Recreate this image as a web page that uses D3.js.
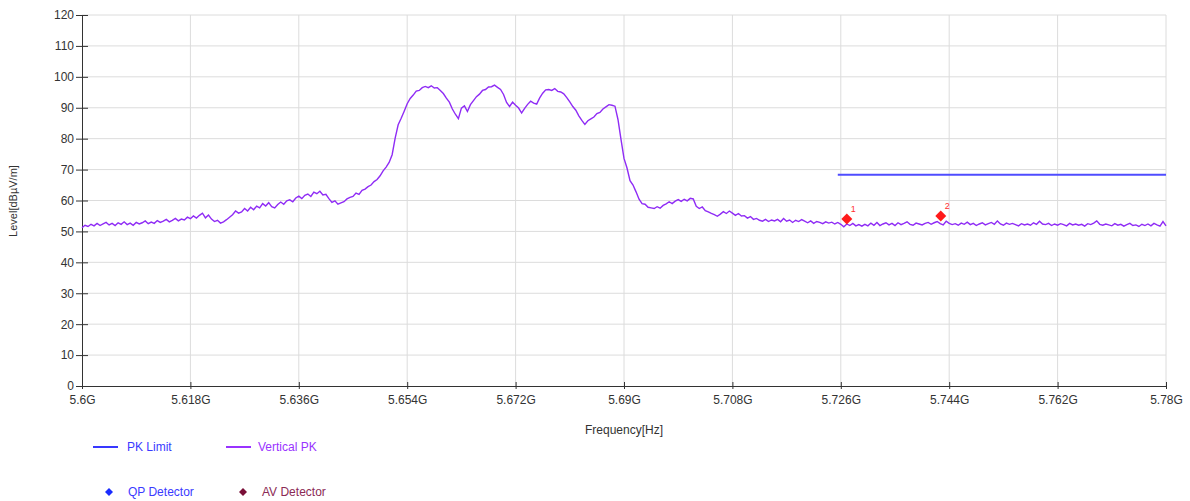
<!DOCTYPE html>
<html><head><meta charset="utf-8">
<script src="https://cdn.jsdelivr.net/npm/d3@7"></script>
<style>body{margin:0;background:#fff}text{font-family:Arial,"Liberation Sans",sans-serif}</style>
</head><body><svg id="c" width="1190" height="501"></svg>
<script>
// ---- data ----
const freqStart = 5.6, freqStep = 0.0005; // GHz, sweep sample spacing
const verticalPK = [
51.2,52.0,51.6,52.3,51.8,52.6,51.9,52.4,52.9,52.1,
52.6,51.9,52.8,52.3,53.1,52.2,52.7,52.0,52.9,52.4,
52.8,53.4,52.5,53.0,52.6,53.5,52.9,53.3,53.9,53.1,
53.6,54.2,53.4,54.0,53.7,54.6,54.1,55.0,54.3,55.2,
55.9,54.4,55.3,54.0,53.2,53.6,52.7,53.1,53.8,54.6,
55.4,56.6,55.9,56.3,57.4,56.6,57.8,57.0,58.2,57.6,
59.0,58.2,59.3,58.0,57.6,58.7,59.5,58.8,59.9,60.2,
59.6,60.8,61.4,60.6,61.7,62.1,61.3,62.7,62.2,63.0,
61.8,62.0,60.6,59.4,59.9,58.8,59.2,59.6,60.5,61.0,
61.3,62.4,62.0,63.3,63.7,64.5,65.0,66.1,66.8,68.0,
69.6,70.8,72.3,74.8,80.2,84.5,86.6,88.9,91.3,93.0,
94.1,95.4,95.6,96.5,96.9,96.5,97.1,96.4,96.5,95.6,
94.6,93.1,91.8,89.6,87.9,86.5,89.9,90.6,88.8,91.0,
92.3,93.6,94.4,95.6,95.9,96.7,96.8,97.3,96.6,95.9,
94.3,91.7,90.4,91.8,90.8,89.9,88.3,89.8,91.1,92.1,
91.5,91.2,93.2,94.7,95.8,95.9,95.6,96.2,95.3,95.1,
94.5,93.3,91.9,90.4,89.2,87.4,85.9,84.6,85.8,86.4,
87.0,88.1,88.5,89.6,90.3,91.0,90.8,90.5,86.2,79.8,
73.6,70.5,66.4,65.0,62.8,60.4,59.0,58.8,57.8,57.6,
57.4,58.0,57.5,58.4,58.9,59.6,59.0,59.8,60.3,59.7,
60.4,59.9,60.7,60.5,58.1,57.4,57.9,56.7,56.3,55.8,
55.4,54.9,55.6,56.4,55.8,56.6,55.9,55.2,55.8,55.0,
55.1,54.3,54.8,53.9,54.2,53.6,53.3,53.9,53.2,53.7,
53.4,53.9,53.1,54.2,53.3,53.7,52.9,53.6,53.2,53.8,
53.3,52.8,53.4,52.6,53.2,52.9,52.5,53.1,52.7,53.0,
52.4,52.9,52.3,51.5,52.4,51.9,52.6,51.8,52.2,51.7,
52.3,51.8,52.7,52.0,52.9,51.9,52.4,52.8,52.1,52.6,
51.9,52.8,52.2,52.6,53.1,52.3,52.0,52.7,52.4,52.1,
52.6,52.9,52.3,52.8,53.2,52.5,52.1,53.3,52.6,52.2,
52.5,52.0,52.7,52.3,53.0,52.2,52.6,51.9,52.4,52.8,
52.1,52.5,52.9,52.3,53.4,52.4,52.0,52.7,52.3,52.6,
52.2,51.8,52.5,52.1,52.4,52.0,52.8,52.3,53.3,52.4,
52.2,52.6,51.9,52.4,52.0,52.5,52.2,51.8,52.6,52.1,
52.4,52.0,52.3,51.7,52.5,52.2,52.7,53.4,52.3,52.0,
52.4,52.1,51.8,52.5,52.0,52.3,51.7,52.2,52.6,51.9,
52.1,51.6,52.3,51.9,52.4,51.8,52.6,52.1,51.7,53.2,51.8
];
const limitFreq = [5.7255, 5.78];
const limitLevel = [68.3, 68.3];
const markerFreq = [5.727, 5.7426];
const markerLevel = [54.0, 55.0];
const markerLabels = ["1", "2"];
const xTicks = [5.6,5.618,5.636,5.654,5.672,5.69,5.708,5.726,5.744,5.762,5.78];
const xTickLabels = ["5.6G","5.618G","5.636G","5.654G","5.672G","5.69G","5.708G","5.726G","5.744G","5.762G","5.78G"];
const yTicks = [0,10,20,30,40,50,60,70,80,90,100,110,120];

// ---- chart ----
const svg = d3.select("#c");
const L = 82, R = 1166, T = 15, B = 386;
const x = d3.scaleLinear().domain([5.6, 5.78]).range([L, R]);
const y = d3.scaleLinear().domain([0, 120]).range([B, T]);

// grid
svg.append("g").selectAll("line").data(yTicks.slice(1)).join("line")
  .attr("x1", L).attr("x2", R).attr("y1", d => y(d)).attr("y2", d => y(d))
  .attr("stroke", "#dcdcdc").attr("stroke-width", 1);
svg.append("g").selectAll("line").data(xTicks.slice(1)).join("line")
  .attr("x1", d => x(d)).attr("x2", d => x(d)).attr("y1", T).attr("y2", B)
  .attr("stroke", "#dcdcdc").attr("stroke-width", 1);

// axes
const yAxis = svg.append("g").attr("transform", `translate(${L},0)`)
  .call(d3.axisLeft(y).tickValues(yTicks).tickSizeInner(6).tickSizeOuter(0).tickPadding(4));
yAxis.selectAll(".tick line").attr("x2", 6).attr("x1", -6).attr("stroke", "#333");
yAxis.select(".domain").attr("stroke", "#333");
yAxis.selectAll("text").attr("font-size", 12).attr("fill", "#333").attr("x", -8);

const xAxis = svg.append("g").attr("transform", `translate(0,${B})`)
  .call(d3.axisBottom(x).tickValues(xTicks).tickFormat((d, i) => xTickLabels[i]).tickSizeInner(3).tickSizeOuter(0).tickPadding(6));
xAxis.selectAll(".tick line").attr("y1", -4).attr("y2", 3).attr("stroke", "#333");
xAxis.select(".domain").attr("stroke", "#333");
xAxis.selectAll("text").attr("font-size", 12).attr("fill", "#333");

// labels
svg.append("text").attr("x", 624).attr("y", 434).attr("text-anchor", "middle")
  .attr("font-size", 12).attr("fill", "#333").text("Frequency[Hz]");
svg.append("text").attr("transform", "translate(17,201) rotate(-90)").attr("text-anchor", "middle")
  .attr("font-size", 11).attr("fill", "#333").text("Level[dBµV/m]");

// trace
const pts = verticalPK.map((v, i) => [freqStart + i * freqStep, v]);
svg.append("path").datum(pts)
  .attr("d", d3.line().x(d => x(d[0])).y(d => y(d[1])))
  .attr("fill", "none").attr("stroke", "#8f2cf5").attr("stroke-width", 1.4);

// limit
svg.append("path").datum(limitFreq.map((f, i) => [f, limitLevel[i]]))
  .attr("d", d3.line().x(d => x(d[0])).y(d => y(d[1])))
  .attr("fill", "none").attr("stroke", "#4f4cff").attr("stroke-width", 2);

// markers
const diamond = d3.symbol().type(d3.symbolDiamond2 || d3.symbolDiamond).size(90);
const mk = svg.append("g");
markerFreq.forEach((f, i) => {
  mk.append("path").attr("d", d3.symbol().type(d3.symbolSquare).size(60)())
    .attr("transform", `translate(${x(f)},${y(markerLevel[i])}) rotate(45)`).attr("fill", "#ff1a1a");
  mk.append("text").attr("x", x(f) + 4).attr("y", y(markerLevel[i]) - 7)
    .attr("font-size", 9).attr("fill", "#ff3030").text(markerLabels[i]);
});

// legend
const leg = svg.append("g");
leg.append("line").attr("x1", 93).attr("x2", 118).attr("y1", 447).attr("y2", 447).attr("stroke", "#3838ff").attr("stroke-width", 2);
leg.append("text").attr("x", 127).attr("y", 451).attr("font-size", 12).attr("fill", "#3a3aff").text("PK Limit");
leg.append("line").attr("x1", 226).attr("x2", 251).attr("y1", 447).attr("y2", 447).attr("stroke", "#9933ff").attr("stroke-width", 2);
leg.append("text").attr("x", 258).attr("y", 451).attr("font-size", 12).attr("fill", "#9933ff").text("Vertical PK");
leg.append("path").attr("d", d3.symbol().type(d3.symbolSquare).size(32)())
  .attr("transform", "translate(109,492) rotate(45)").attr("fill", "#1a2cff");
leg.append("text").attr("x", 128).attr("y", 496).attr("font-size", 12).attr("fill", "#3a3aff").text("QP Detector");
leg.append("path").attr("d", d3.symbol().type(d3.symbolSquare).size(32)())
  .attr("transform", "translate(243,492) rotate(45)").attr("fill", "#7a1038");
leg.append("text").attr("x", 262).attr("y", 496).attr("font-size", 12).attr("fill", "#8b2a55").text("AV Detector");
</script></body></html>
